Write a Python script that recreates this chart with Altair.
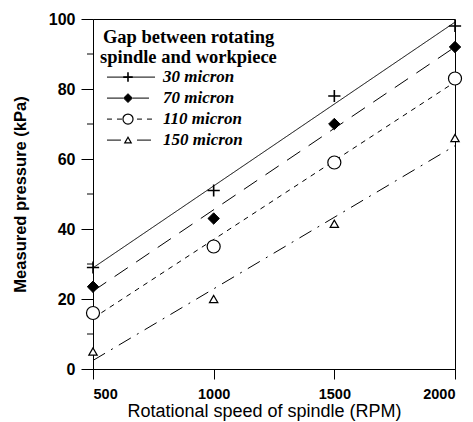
import altair as alt
import pandas as pd

# ---- data ----
rpm = [500, 1000, 1500, 2000]
series = ["30 micron", "70 micron", "110 micron", "150 micron"]
p30 = [29, 51, 78, 98]
p70 = [23.5, 43, 70, 92]
p110 = [16, 35, 59, 83]
p150 = [5, 20, 41.5, 66]
legend_title = ["Gap between rotating", "spindle and workpiece"]
x_ticks = [500, 1000, 1500, 2000]
y_ticks = [0, 20, 40, 60, 80, 100]
y_minor = [10, 30, 50, 70, 90]

values = [p30, p70, p110, p150]
df = pd.DataFrame(
    [{"rpm": r, "p": v, "gap": s} for s, vals in zip(series, values) for r, v in zip(rpm, vals)]
)

# ---- styles ----
PLUS = "M-1,0H1M0,-1V1"
style = {
    "30 micron": dict(dash=[1, 0], shape=PLUS, fill="transparent", size=150, sw=1.6),
    "70 micron": dict(dash=[16, 10], shape="diamond", fill="black", size=130, sw=1),
    "110 micron": dict(dash=[5, 5], shape="circle", fill="white", size=170, sw=1.2),
    "150 micron": dict(dash=[14, 7, 2, 7], shape="triangle-up", fill="white", size=70, sw=1.2),
}

xs = alt.Scale(domain=[500, 2000], nice=False, zero=False)
ys = alt.Scale(domain=[0, 100], nice=False)

x_axis = alt.Axis(
    values=x_ticks, format="d", title="Rotational speed of spindle (RPM)",
    titleFontSize=18, titleFontWeight="normal", titleX=171, titleY=47,
    titleAlign="center", titleBaseline="alphabetic", labelPadding=8, tickSize=10,
    labelFontSize=14.5,
)
y_axis = alt.Axis(
    values=y_ticks, format="d", title="Measured pressure (kPa)",
    titleFontSize=16.5, titleFontWeight="bold", titleX=-73, titleY=175,
    titleAngle=-90, titleAlign="center", titleBaseline="middle", labelPadding=6,
    tickSize=12, labelFontSize=16,
)

base = alt.Chart(df)
layers = []

# minor y ticks
minor_df = pd.DataFrame({"v": y_minor})
layers.append(
    alt.Chart(minor_df).mark_rule(color="black", strokeWidth=1).encode(
        y=alt.Y("v:Q", scale=ys, axis=y_axis), x=alt.value(-6), x2=alt.value(0)
    )
)

for s in series:
    st = style[s]
    sub = base.transform_filter(alt.datum.gap == s)
    layers.append(
        sub.transform_regression("rpm", "p", extent=[500, 2000])
        .mark_line(color="black", strokeWidth=1, strokeDash=st["dash"])
        .encode(x=alt.X("rpm:Q", scale=xs, axis=x_axis), y=alt.Y("p:Q", scale=ys, axis=y_axis))
    )

for s in series:
    st = style[s]
    sub = base.transform_filter(alt.datum.gap == s)
    layers.append(
        sub.mark_point(
            shape=st["shape"], size=st["size"], stroke="black", strokeWidth=st["sw"],
            fill=st["fill"], filled=False, opacity=1, fillOpacity=1,
        ).encode(x=alt.X("rpm:Q", scale=xs, axis=x_axis), y=alt.Y("p:Q", scale=ys, axis=y_axis))
    )

# ---- custom legend placed in data units ----
leg_title_df = pd.DataFrame({"t": legend_title, "x": [541, 529], "y": [94.9, 89.1]})
layers.append(
    alt.Chart(leg_title_df).mark_text(
        align="left", baseline="middle", font="Liberation Serif", fontSize=18.5,
        fontWeight="bold", color="black",
    ).encode(x=alt.X("x:Q", scale=xs), y=alt.Y("y:Q", scale=ys), text="t:N")
)

leg_y = [83.4, 77.4, 71.4, 65.4]
for s, ly in zip(series, leg_y):
    st = style[s]
    row = pd.DataFrame({"x": [558], "x2": [757], "xm": [645], "xt": [790], "y": [ly], "t": [s]})
    c = alt.Chart(row)
    layers.append(
        c.mark_rule(color="black", strokeWidth=1, strokeDash=st["dash"]).encode(
            x=alt.X("x:Q", scale=xs), x2="x2:Q", y=alt.Y("y:Q", scale=ys)
        )
    )
    layers.append(
        c.mark_point(
            shape=st["shape"], size=st["size"] * 0.6, stroke="black", strokeWidth=st["sw"],
            fill=st["fill"], filled=False, opacity=1, fillOpacity=1,
        ).encode(x=alt.X("xm:Q", scale=xs), y=alt.Y("y:Q", scale=ys))
    )
    layers.append(
        c.mark_text(
            align="left", baseline="middle", font="Liberation Serif", fontSize=17,
            fontWeight="bold", fontStyle="italic", color="black",
        ).encode(x=alt.X("xt:Q", scale=xs), y=alt.Y("y:Q", scale=ys), text="t:N")
    )

chart = (
    alt.layer(*layers)
    .properties(
        width=362, height=350,
        background="white",
        autosize=alt.AutoSizeParams(type="none"),
        padding={"left": 93, "top": 19, "right": 18, "bottom": 53},
    )
    .configure_view(stroke="black", strokeWidth=1)
    .configure_axis(
        labelFont="Liberation Sans", labelFontWeight="bold",
        labelColor="black", titleFont="Liberation Sans", titleColor="black",
        tickColor="black", domainColor="black", grid=False,
    )
)

chart.save("out.html", embed_options={"renderer": "svg", "actions": False})
